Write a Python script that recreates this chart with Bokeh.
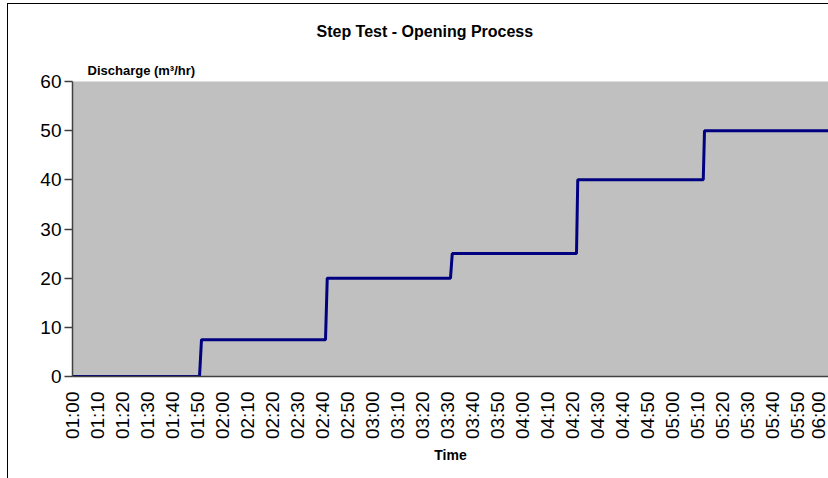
from bokeh.plotting import figure
from bokeh.models import Range1d, FixedTicker, Title
from bokeh.embed import file_html
from bokeh.resources import INLINE
import math

# ---- data (minutes after 01:00, discharge in m3/hr) ----
TIME_MIN = [0, 50.8, 51.6, 101.2, 101.9, 151.2, 151.9, 201.6, 202.1, 252.3, 252.8, 303]
DISCHARGE = [0, 0, 7.5, 7.5, 20, 20, 25, 25, 40, 40, 50, 50]

TIME_LABELS = ["01:00", "01:10", "01:20", "01:30", "01:40", "01:50",
               "02:00", "02:10", "02:20", "02:30", "02:40", "02:50",
               "03:00", "03:10", "03:20", "03:30", "03:40", "03:50",
               "04:00", "04:10", "04:20", "04:30", "04:40", "04:50",
               "05:00", "05:10", "05:20", "05:30", "05:40", "05:50",
               "06:00"]
Y_TICKS = [0, 10, 20, 30, 40, 50, 60]

TITLE = "Step Test - Opening Process"
Y_TITLE = "Discharge (m³/hr)"
X_TITLE = "Time"

FONT = "Liberation Sans"

tick_pos = [i * 10 for i in range(len(TIME_LABELS))]

p = figure(width=820, height=474, output_backend="svg", toolbar_location=None,
           x_range=Range1d(0, 302.4), y_range=Range1d(0, 60),
           min_border_left=64, min_border_right=0,
           min_border_top=76, min_border_bottom=102)

p.styles = {"margin-left": "8px", "margin-top": "4px",
            "outline": "1.5px solid black"}

p.background_fill_color = "#C0C0C0"
p.border_fill_color = "white"
p.outline_line_color = None
p.xgrid.visible = False
p.ygrid.visible = False

p.line(TIME_MIN, DISCHARGE, line_color="#000080", line_width=3)

# y axis
ya = p.yaxis[0]
ya.ticker = FixedTicker(ticks=Y_TICKS)
ya.minor_tick_line_color = None
ya.major_tick_in = 0
ya.major_tick_out = 8
ya.axis_line_color = "#404040"
ya.axis_line_width = 1.5
ya.major_tick_line_color = "#404040"
ya.major_tick_line_width = 1.5
ya.major_label_text_font = FONT
ya.major_label_text_font_size = "19px"
ya.major_label_text_color = "black"
ya.major_label_standoff = 3

# x axis
xa = p.xaxis[0]
xa.ticker = FixedTicker(ticks=tick_pos)
xa.major_label_overrides = {t: lab for t, lab in zip(tick_pos, TIME_LABELS)}
xa.minor_tick_line_color = None
xa.major_tick_in = 0
xa.major_tick_out = 0
xa.axis_line_color = "#404040"
xa.axis_line_width = 1.5
xa.major_label_orientation = math.pi / 2
xa.major_label_text_font = FONT
xa.major_label_text_font_size = "19px"
xa.major_label_text_color = "black"
xa.major_label_standoff = 15
xa.axis_label = X_TITLE
xa.axis_label_text_font = FONT
xa.axis_label_text_font_style = "bold"
xa.axis_label_text_font_size = "14px"
xa.axis_label_text_color = "black"
xa.axis_label_standoff = 5

# titles above the plot area (first added sits closest to the plot area)
p.add_layout(Title(text=Y_TITLE, align="left", offset=15, standoff=8,
                   text_font=FONT, text_font_style="bold",
                   text_font_size="13px", text_color="black"), "above")
p.add_layout(Title(text=TITLE, align="left", offset=244, standoff=33,
                   text_font=FONT, text_font_style="bold",
                   text_font_size="16px", text_color="black"), "above")

open("out.html", "w").write(file_html(p, INLINE))
